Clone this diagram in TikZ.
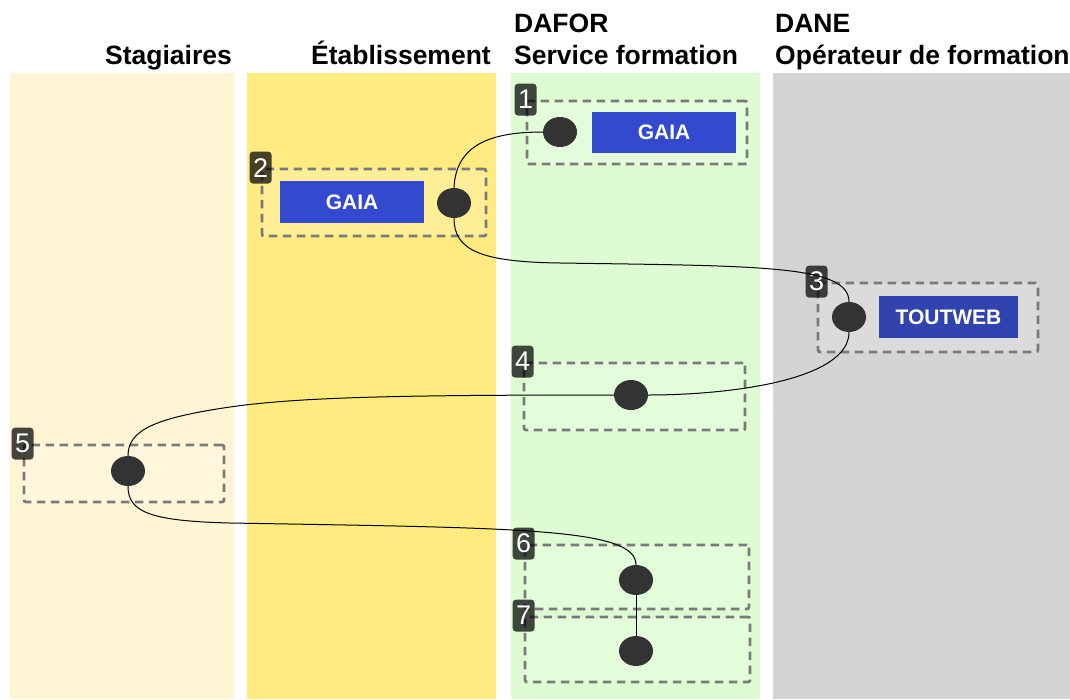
\documentclass[tikz,border=0pt]{standalone}
\usepackage{fontspec}
\setmainfont{Liberation Sans}
\usetikzlibrary{shapes.geometric}
\definecolor{laneA}{HTML}{FFF5D4}
\definecolor{laneB}{HTML}{FFEB80}
\definecolor{laneC}{HTML}{DEFCD2}
\definecolor{laneD}{HTML}{D4D4D4}
\definecolor{gaiablue}{HTML}{3349D0}
\definecolor{toutblue}{HTML}{3043AE}
\definecolor{dotcol}{HTML}{333333}
\definecolor{grpcol}{HTML}{7A7A7A}
\tikzset{
  lanehead/.style={font=\fontsize{26.5}{30}\selectfont\bfseries, inner sep=0pt},
  grp/.style={draw=grpcol, line width=2.8pt, dash pattern=on 8.5pt off 5.5pt, fill=white, fill opacity=0.18, draw opacity=1, rounded corners=2pt, inner sep=0pt},
  badge/.style={fill=black, fill opacity=0.72, text opacity=1, text=white, rounded corners=3.5pt, minimum width=22pt, minimum height=32pt, inner sep=0pt, font=\fontsize{27}{27}\selectfont},
  appbox/.style={fill=gaiablue, text=white, inner sep=0pt, font=\fontsize{21}{24}\selectfont\bfseries},
  dot/.style={ellipse, fill=dotcol, minimum width=34pt, minimum height=30pt, inner sep=0pt},
  conn/.style={line width=1pt, black}
}
\begin{document}
\begin{tikzpicture}[x=1pt,y=-1pt]
\useasboundingbox (0,0) rectangle (1070,699);
% lanes
\fill[laneA] (10,73) rectangle (234,699);
\fill[laneB] (247,73) rectangle (496,699);
\fill[laneC] (511,73) rectangle (760,699);
\fill[laneD] (773,73) rectangle (1070,699);
% headers
\node[lanehead, anchor=base east] (hA) at (232,64) {Stagiaires};
\node[lanehead, anchor=base east] (hB) at (491,64) {Établissement};
\node[lanehead, anchor=base west] (hC1) at (514,32) {DAFOR};
\node[lanehead, anchor=base west] (hC2) at (514,64) {Service formation};
\node[lanehead, anchor=base west] (hD1) at (775,32) {DANE};
\node[lanehead, anchor=base west] (hD2) at (775,64) {Opérateur de formation};
% groups
\node[grp, minimum width=220pt, minimum height=63pt] (g1) at (637,132.5) {};
\node[grp, minimum width=224pt, minimum height=67pt] (g2) at (374,202.5) {};
\node[grp, minimum width=220pt, minimum height=69pt] (g3) at (928,317.5) {};
\node[grp, minimum width=221pt, minimum height=67pt] (g4) at (634.5,396.5) {};
\node[grp, minimum width=200pt, minimum height=57pt] (g5) at (124,473.5) {};
\node[grp, minimum width=224pt, minimum height=64pt] (g6) at (637,577) {};
\node[grp, minimum width=225pt, minimum height=65pt] (g7) at (637.5,649.5) {};
% badges
\node[badge] (b1) at (g1.north west) {1};
\node[badge] (b2) at (g2.north west) {2};
\node[badge] (b3) at (g3.north west) {3};
\node[badge] (b4) at (g4.north west) {4};
\node[badge] (b5) at (g5.north west) {5};
\node[badge] (b6) at (g6.north west) {6};
\node[badge] (b7) at (g7.north west) {7};
% application boxes
\node[appbox, minimum width=144pt, minimum height=41pt] (gaia1) at (664,132.5) {GAIA};
\node[appbox, minimum width=144pt, minimum height=42pt] (gaia2) at (352,202) {GAIA};
\node[appbox, fill=toutblue, minimum width=139pt, minimum height=42pt] (tw) at (948.5,317) {TOUTWEB};
% dots
\node[dot] (c1) at (560,132) {};
\node[dot] (c2) at (454,203) {};
\node[dot] (c3) at (849,317) {};
\node[dot] (c4) at (631,395) {};
\node[dot] (c5) at (128,471) {};
\node[dot] (c6) at (636,580) {};
\node[dot] (c7) at (636,651) {};
% connectors
\draw[conn] (c1.west) .. controls (490,132) and (456,145) .. (c2.north);
\draw[conn] (c2.south) .. controls (454,250) and (480,262) .. (560,263)
  .. controls (760,266) and (849,265) .. (c3.north);
\draw[conn] (c3.south) .. controls (849,380) and (730,395) .. (c4.east);
\draw[conn] (c4.west) .. controls (400,395) and (300,397) .. (230,407)
  .. controls (155,418) and (128,430) .. (c5.north);
\draw[conn] (c5.south) .. controls (128,512) and (150,521) .. (230,523)
  .. controls (520,528) and (636,528) .. (c6.north);
\draw[conn] (c6.south) -- (c7.north);
\end{tikzpicture}
\end{document}
